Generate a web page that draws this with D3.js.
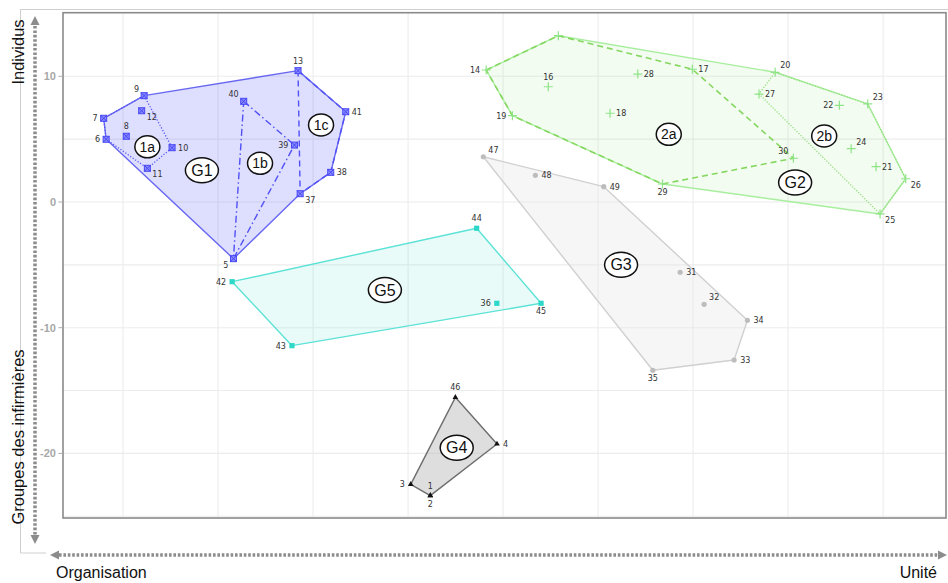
<!DOCTYPE html>
<html><head><meta charset="utf-8">
<script src="https://cdn.jsdelivr.net/npm/d3@7"></script>
<style>body{margin:0;background:#fff}svg{display:block}</style>
</head><body><svg id="c" width="948" height="583"></svg>
<script>
// ---- data ----
const pointIds    = ["1","2","3","4","5","6","7","8","9","10","11","12","13","14","15","16","17","18","19","20","21","22","23","24","25","26","27","28","29","30","31","32","33","34","35","36","37","38","39","40","41","42","43","44","45","46","47","48","49"];
const pointX      = [1.17,1.17,0.14,4.68,-9.19,-15.89,-16.02,-14.83,-13.89,-12.42,-13.72,-14.02,-5.79,4.11,7.91,7.38,14.96,10.63,5.49,19.32,24.63,22.7,24.19,23.32,24.84,26.19,18.47,12.09,13.39,20.28,14.32,15.58,17.16,17.86,12.88,4.67,-5.68,-4.07,-5.98,-8.65,-3.28,-9.26,-6.11,3.61,7.0,2.49,3.96,6.7,10.3];
const pointY      = [-23.36,-23.36,-22.46,-19.25,-4.51,4.99,6.66,5.23,8.46,4.32,2.68,7.26,10.45,10.5,13.23,9.17,10.56,7.06,6.87,10.32,2.81,7.69,7.8,4.24,-0.95,1.85,8.59,10.18,1.43,3.48,-5.59,-8.14,-12.57,-9.41,-13.39,-8.06,0.66,2.36,4.53,8.01,7.18,-6.34,-11.43,-2.09,-8.06,-15.54,3.6,2.12,1.22];
const pointGroup  = ["G4","G4","G4","G4","G1","G1","G1","G1","G1","G1","G1","G1","G1","G2","G2","G2","G2","G2","G2","G2","G2","G2","G2","G2","G2","G2","G2","G2","G2","G2","G3","G3","G3","G3","G3","G5","G1","G1","G1","G1","G1","G5","G5","G5","G5","G4","G3","G3","G3"];
const pointLabelShown = pointIds.map(id => id !== "15");

const groupNames  = ["G1","G2","G3","G4","G5"];
const groupHulls  = [["9","13","41","38","37","5","6","7"],
                     ["14","15","20","23","26","25","29","19"],
                     ["47","49","34","33","35"],
                     ["46","4","2","3"],
                     ["44","45","43","42"]];
const subNames    = ["1a","1b","1c","2a","2b"];
const subHulls    = [["9","10","11","6","7"],
                     ["40","39","5"],
                     ["13","41","38","37"],
                     ["14","15","17","30","29","19"],
                     ["20","23","26","25","27"]];
const tagText     = ["1a","G1","1b","1c","2a","2b","G2","G3","G5","G4"];
const tagX        = [-13.72,-10.85,-7.79,-4.58,13.72,21.9,20.37,11.21,-1.22,2.56];
const tagY        = [4.39,2.52,3.08,6.13,5.38,5.25,1.55,-5.0,-7.01,-19.55];
const yTicks      = [10,0,-10,-20];
const gridX       = [-15,-10,-5,0,5,10,15,20,25];
const gridY       = [-25,-20,-15,-10,-5,0,5,10,15];
const axisTexts   = {top:"Individus", bottom:"Groupes des infirmières", left:"Organisation", right:"Unité"};

// ---- styles ----
const G = {
  G1:{stroke:"#6767F2", fill:"#5A5AFF", fo:0.2, pt:"#4747F5"},
  G2:{stroke:"#A8EE9E", fill:"#7CE06A", fo:0.1, pt:"#8EE486"},
  G3:{stroke:"#D0D0D0", fill:"#E8E8E8", fo:0.4, pt:"#BDBDBD"},
  G4:{stroke:"#6E6E6E", fill:"#BDBDBD", fo:0.5, pt:"#111"},
  G5:{stroke:"#5CE2D6", fill:"#5CE2D6", fo:0.14, pt:"#2ED8C8"}
};
const SUB = {
  "1a":{stroke:"#5757F5", dash:"1.2,1.8", w:1.3},
  "1b":{stroke:"#5050F5", dash:"7,3,1.5,3", w:1.4},
  "1c":{stroke:"#5050F5", dash:"6,4", w:1.4},
  "2a":{stroke:"#86D760", dash:"6,4", w:1.6},
  "2b":{stroke:"#94DE7E", dash:"1.2,1.6", w:1.3}
};
const labelPos = {"1":"t","2":"b","3":"l","4":"r","5":"bl","6":"l","7":"l","8":"t","9":"tl","10":"r","11":"br","12":"br","13":"t","14":"l","16":"t","17":"r","18":"r","19":"l","20":"tr","21":"r","22":"l","23":"tr","24":"tr","25":"br","26":"br","27":"r","28":"r","29":"b","30":"tl","31":"r","32":"tr","33":"r","34":"r","35":"b","36":"l","37":"br","38":"r","39":"l","40":"tl","41":"r","42":"l","43":"l","44":"t","45":"b","46":"t","47":"tr","48":"r","49":"r"};

const svg = d3.select("#c");
const P = {l:63, r:946, t:12.7, b:518};
const x = d3.scaleLinear().domain([-18.16, 28.31]).range([P.l, P.r]);
const y = d3.scaleLinear().domain([-25.14, 15.06]).range([P.b, P.t]);

const pts = {};
pointIds.forEach((id,i)=>pts[id]={id, x:pointX[i], y:pointY[i], g:pointGroup[i], show:pointLabelShown[i]});

// outer frame
svg.append("line").attr("x1",20).attr("y1",9.5).attr("x2",948).attr("y2",9.5).attr("stroke","#cfcfcf");
svg.append("line").attr("x1",20.5).attr("y1",9.5).attr("x2",20.5).attr("y2",553).attr("stroke","#cfcfcf");
svg.append("line").attr("x1",20.5).attr("y1",553).attr("x2",46).attr("y2",553).attr("stroke","#cfcfcf");

// panel
svg.append("rect").attr("x",P.l).attr("y",P.t).attr("width",P.r-P.l).attr("height",P.b-P.t).attr("fill","#fff");
const gg = svg.append("g");
gg.selectAll("line.gx").data(gridX).join("line").attr("x1",d=>x(d)).attr("x2",d=>x(d)).attr("y1",P.t).attr("y2",P.b).attr("stroke","#ececec").attr("stroke-width",1.1);
gg.selectAll("line.gy").data(gridY.filter(d=>y(d)>P.t+1 && y(d)<P.b-1)).join("line").attr("y1",d=>y(d)).attr("y2",d=>y(d)).attr("x1",P.l).attr("x2",P.r).attr("stroke","#ececec").attr("stroke-width",1.1);

// hulls
const line = d3.line().x(d=>x(d.x)).y(d=>y(d.y));
groupNames.forEach((gname,i)=>{
  const ptsArr = groupHulls[i].map(id=>pts[id]);
  svg.append("path").attr("d", line(ptsArr)+"Z")
    .attr("fill",G[gname].fill).attr("fill-opacity",G[gname].fo)
    .attr("stroke",G[gname].stroke).attr("stroke-width",1.4).attr("stroke-linejoin","round");
});
subNames.forEach((s,i)=>{
  const ptsArr = subHulls[i].map(id=>pts[id]);
  svg.append("path").attr("d", line(ptsArr)+"Z").attr("fill","none")
    .attr("stroke",SUB[s].stroke).attr("stroke-width",SUB[s].w).attr("stroke-dasharray",SUB[s].dash);
});

// points
const all = Object.values(pts);
all.forEach(p=>{
  const cx=x(p.x), cy=y(p.y), c=G[p.g].pt;
  if(p.g==="G1"){
    svg.append("rect").attr("x",cx-3).attr("y",cy-3).attr("width",6).attr("height",6).attr("fill","#8a8aff").attr("stroke",c).attr("stroke-width",1);
    svg.append("path").attr("d",`M${cx-3},${cy-3}L${cx+3},${cy+3}M${cx+3},${cy-3}L${cx-3},${cy+3}`).attr("stroke",c).attr("stroke-width",1);
  } else if(p.g==="G2"){
    svg.append("path").attr("d",`M${cx-4.5},${cy}H${cx+4.5}M${cx},${cy-4.5}V${cy+4.5}`).attr("stroke",c).attr("stroke-width",1.2);
  } else if(p.g==="G3"){
    svg.append("circle").attr("cx",cx).attr("cy",cy).attr("r",2.6).attr("fill",c);
  } else if(p.g==="G5"){
    svg.append("rect").attr("x",cx-2.6).attr("y",cy-2.6).attr("width",5.2).attr("height",5.2).attr("fill",c);
  } else {
    svg.append("path").attr("d",d3.symbol(d3.symbolTriangle,14)()).attr("transform",`translate(${cx},${cy})`).attr("fill",c);
  }
});

// point labels
const off = {r:[6,3,"start"], l:[-6,3,"end"], t:[0,-7,"middle"], b:[0,11,"middle"], tl:[-5,-4,"end"], tr:[5,-4,"start"], br:[5,9,"start"], bl:[-5,9,"end"]};
all.filter(p=>p.show).forEach(p=>{
  const o = off[labelPos[p.id]];
  svg.append("text").attr("x",x(p.x)+o[0]).attr("y",y(p.y)+o[1]).attr("text-anchor",o[2])
    .attr("font-family","DejaVu Sans, sans-serif").attr("font-size",8).attr("fill","#333").text(p.id);
});

// circled tags
tagText.forEach((t,i)=>{
  const big = t[0]==="G";
  const cx=x(tagX[i]), cy=y(tagY[i]);
  svg.append("ellipse").attr("cx",cx).attr("cy",cy).attr("rx",big?16.5:12.5).attr("ry",big?12.5:11)
    .attr("fill","#fff").attr("stroke","#111").attr("stroke-width",1.5);
  svg.append("text").attr("x",cx).attr("y",cy+ (big?5.5:5)).attr("text-anchor","middle")
    .attr("font-family","Liberation Sans, Arial, sans-serif").attr("font-size",big?16:14).attr("fill","#111").text(t);
});

// panel border
svg.append("rect").attr("x",P.l).attr("y",P.t).attr("width",P.r-P.l).attr("height",P.b-P.t).attr("fill","none").attr("stroke","#8a8a8a").attr("stroke-width",1.6);

// y axis ticks
const ya = svg.append("g");
yTicks.forEach(v=>{
  ya.append("line").attr("x1",P.l-4.5).attr("x2",P.l).attr("y1",y(v)).attr("y2",y(v)).attr("stroke","#aaa").attr("stroke-width",1);
  ya.append("text").attr("x",P.l-7).attr("y",y(v)+4).attr("text-anchor","end")
    .attr("font-family","Liberation Sans, Arial, sans-serif").attr("font-size",11).attr("font-weight","bold").attr("fill","#a8a8a8").text(v);
});

// dotted arrows
const ac="#8c8c8c";
svg.append("line").attr("x1",35).attr("y1",26).attr("x2",35).attr("y2",535).attr("stroke",ac).attr("stroke-width",3.5).attr("stroke-dasharray","2.6,1.8");
svg.append("path").attr("d","M35,16L30.5,25L39.5,25Z").attr("fill",ac);
svg.append("path").attr("d","M35,544L30.5,535L39.5,535Z").attr("fill",ac);
svg.append("line").attr("x1",59).attr("y1",555).attr("x2",938).attr("y2",555).attr("stroke",ac).attr("stroke-width",3.5).attr("stroke-dasharray","2.6,1.8");
svg.append("path").attr("d","M50,555L59,550.5L59,559.5Z").attr("fill",ac);
svg.append("path").attr("d","M947,555L938,550.5L938,559.5Z").attr("fill",ac);

// axis texts
const ff="Liberation Sans, Arial, sans-serif";
svg.append("text").attr("transform","translate(24,52) rotate(-90)").attr("text-anchor","middle").attr("font-family",ff).attr("font-size",16.5).attr("fill","#111").text(axisTexts.top);
svg.append("text").attr("transform","translate(24,437) rotate(-90)").attr("text-anchor","middle").attr("font-family",ff).attr("font-size",16.5).attr("fill","#111").text(axisTexts.bottom);
svg.append("text").attr("x",56).attr("y",578).attr("font-family",ff).attr("font-size",16).attr("fill","#111").text(axisTexts.left);
svg.append("text").attr("x",937).attr("y",578).attr("text-anchor","end").attr("font-family",ff).attr("font-size",16).attr("fill","#111").text(axisTexts.right);
</script></body></html>
